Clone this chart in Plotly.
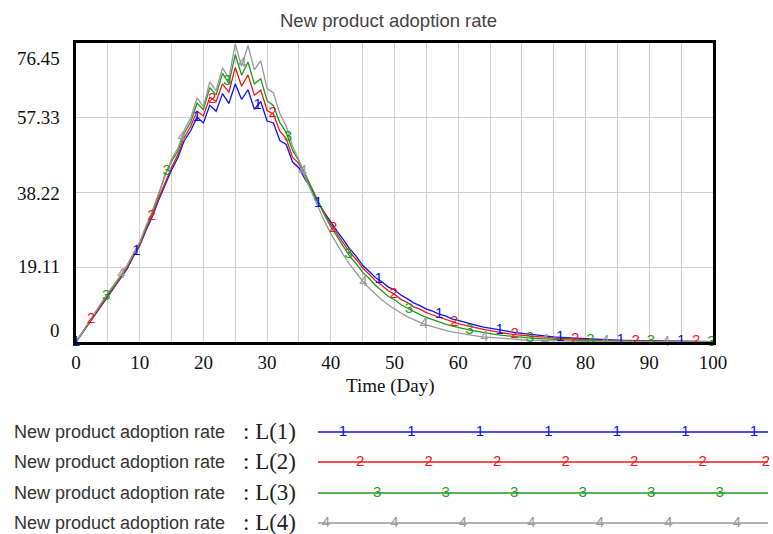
import numpy as np
import plotly.graph_objects as go

# ---------------- data ----------------
time_days = list(range(0, 101))

rate_L1 = [0, 2.3, 4.8, 6.9, 9.4, 11.6, 13.9, 16.2, 18.6, 21.8, 24.6,
           28.6, 32.1, 36.4, 40.2, 44.0, 47.1,
           51.5, 54.0, 57.5, 56.0, 60.5, 59.0, 63.5, 61.0, 66.0, 62.0,
           64.5, 59.5, 61.5, 56.5, 56.0, 51.5, 50.5, 46.0, 44.5, 41.5,
           39.0, 35.5, 33.0, 30.5,
           28.3, 26.1, 23.7, 21.9, 19.6, 18.1, 16.5, 15.4, 14.1, 13.3,
           12.0, 11.1, 10.0, 9.3, 8.4, 7.9, 7.1, 6.7, 5.9, 5.5,
           5.0, 4.6, 4.2, 3.8, 3.5, 3.2, 2.9, 2.6, 2.4, 2.2,
           2.0, 1.8, 1.6, 1.5, 1.3, 1.2, 1.1, 1.0, 0.9, 0.8,
           0.7, 0.65, 0.6, 0.5, 0.45, 0.4, 0.37, 0.33, 0.3, 0.27,
           0.25, 0.22, 0.2, 0.18, 0.16, 0.15, 0.13, 0.12, 0.11, 0.1]

rate_L2 = [0, 2.4, 4.9, 7.1, 9.5, 11.8, 14.1, 16.5, 18.9, 22.0, 24.9,
           28.9, 32.6, 36.9, 40.8, 44.6, 47.9,
           52.3, 55.1, 59.0, 57.8, 62.6, 61.5, 66.0, 63.8, 70.2, 65.4,
           68.3, 63.1, 64.4, 59.2, 58.3, 53.9, 52.0, 47.2, 45.6, 42.1,
           39.3, 35.8, 32.9, 30.1,
           27.6, 25.3, 22.9, 21.1, 18.9, 17.4, 15.7, 14.5, 13.1, 12.2,
           10.9, 10.1, 9.0, 8.4, 7.5, 6.9, 6.3, 5.7, 5.2, 4.7,
           4.3, 3.9, 3.5, 3.2, 2.9, 2.6, 2.4, 2.1, 1.9, 1.7,
           1.6, 1.4, 1.3, 1.1, 1.0, 0.9, 0.8, 0.75, 0.68, 0.6,
           0.55, 0.5, 0.44, 0.4, 0.36, 0.33, 0.3, 0.27, 0.24, 0.22,
           0.2, 0.18, 0.16, 0.15, 0.13, 0.12, 0.11, 0.1, 0.09, 0.08]

rate_L3 = [0, 2.5, 5.0, 7.4, 9.9, 12.3, 14.4, 16.8, 19.3, 22.4, 25.3,
           29.4, 33.2, 37.8, 42.9, 46.2, 48.8,
           53.4, 56.2, 61.1, 59.4, 65.0, 63.2, 68.7, 66.1, 73.5, 68.2,
           71.6, 66.0, 67.3, 61.7, 60.4, 56.1, 53.6, 49.0, 46.3, 42.8,
           39.4, 35.7, 32.5, 29.5,
           26.8, 24.4, 21.9, 20.0, 17.8, 16.3, 14.5, 13.2, 11.7, 10.8,
           9.6, 8.7, 7.8, 7.0, 6.3, 5.7, 5.1, 4.6, 4.1, 3.7,
           3.3, 3.0, 2.7, 2.4, 2.1, 1.9, 1.7, 1.5, 1.35, 1.2,
           1.05, 0.95, 0.85, 0.75, 0.66, 0.6, 0.53, 0.47, 0.42, 0.38,
           0.34, 0.3, 0.27, 0.24, 0.21, 0.19, 0.17, 0.15, 0.13, 0.12,
           0.1, 0.09, 0.08, 0.07, 0.065, 0.06, 0.05, 0.045, 0.04, 0.035]

rate_L4 = [0, 2.6, 5.1, 7.6, 10.1, 12.5, 14.7, 17.1, 19.6, 22.7, 25.6,
           29.8, 33.7, 38.2, 42.5, 46.7, 49.6,
           54.2, 57.3, 62.4, 60.2, 66.5, 64.3, 70.1, 67.4, 76.2, 70.5,
           75.8, 69.6, 71.9, 64.8, 63.7, 58.4, 55.2, 50.1, 46.4, 42.0,
           38.3, 34.4, 30.9, 27.7,
           24.8, 22.2, 19.8, 17.6, 15.6, 13.8, 12.2, 10.8, 9.5, 8.4,
           7.4, 6.5, 5.7, 5.0, 4.4, 3.9, 3.4, 3.0, 2.6, 2.3,
           2.0, 1.75, 1.5, 1.3, 1.15, 1.0, 0.88, 0.77, 0.67, 0.58,
           0.5, 0.44, 0.38, 0.33, 0.29, 0.25, 0.22, 0.19, 0.17, 0.15,
           0.13, 0.11, 0.1, 0.09, 0.08, 0.07, 0.06, 0.05, 0.045, 0.04,
           0.035, 0.03, 0.027, 0.024, 0.021, 0.019, 0.017, 0.015, 0.013, 0.012]

series_names = ["L(1)", "L(2)", "L(3)", "L(4)"]
series_labels = ["1", "2", "3", "4"]
series_values = [rate_L1, rate_L2, rate_L3, rate_L4]
series_colors = ["#1010f0", "#f01818", "#1e9a1e", "#9a9a9a"]

y_tick_values = [0, 19.11, 38.22, 57.33, 76.45]
y_tick_labels = ["0", "19.11", "38.22", "57.33", "76.45"]
x_tick_values = list(range(0, 101, 10))

chart_title = "New product adoption rate"
x_title = "Time (Day)"
legend_text = "New product adoption rate"

# ---------------- layout geometry (pixels) ----------------
W, H = 773, 534
ML, MT = 76, 43
PW, PH = W - ML, H - MT
plot_right, plot_bottom = 713, 342


def px_x(px):
    return (px - ML) / PW


def px_y(py):
    return (H - py) / PH


fig = go.Figure()

# series lines
t = np.array(time_days, dtype=float)
for name, vals, col in zip(series_names, series_values, series_colors):
    fig.add_trace(go.Scatter(x=t, y=vals, mode="lines", name=name,
                             line=dict(color=col, width=1.3),
                             showlegend=False, xaxis="x", yaxis="y"))

# numbered markers along each series (Vensim style)
marker_step = 9.5
for k, (lab, vals, col) in enumerate(zip(series_labels, series_values, series_colors)):
    mt = np.arange(k * marker_step / 4, 100.01, marker_step)
    my = np.interp(mt, t, np.array(vals, dtype=float))
    fig.add_trace(go.Scatter(x=mt, y=my, mode="text", text=[lab] * len(mt),
                             textposition="middle center",
                             textfont=dict(color=col, size=15, family="Liberation Sans"),
                             showlegend=False, xaxis="x", yaxis="y", cliponaxis=False))

# legend rows drawn on a hidden pixel-unit axis
legend_rows = [432, 462, 493, 523]
leg_x0, leg_x1 = 318, 773
leg_step = 68.5
for k, (lab, col, row) in enumerate(zip(series_labels, series_colors, legend_rows)):
    fig.add_trace(go.Scatter(x=[leg_x0, 768], y=[row, row], mode="lines",
                             line=dict(color=col, width=1.3), showlegend=False,
                             xaxis="x2", yaxis="y2", hoverinfo="skip"))
    start = 343 + k * leg_step / 4
    if k == 3:
        start -= leg_step
    mx = np.minimum(np.arange(start, 772, leg_step), 766)
    fig.add_trace(go.Scatter(x=mx, y=[row] * len(mx), mode="text", text=[lab] * len(mx),
                             textposition="middle center",
                             textfont=dict(color=col, size=15, family="Liberation Sans"),
                             showlegend=False, xaxis="x2", yaxis="y2",
                             hoverinfo="skip", cliponaxis=False))

annotations = []
# title
annotations.append(dict(text=chart_title, xref="paper", yref="paper",
                        x=px_x(388), y=px_y(20), xanchor="center", yanchor="middle",
                        showarrow=False,
                        font=dict(family="Liberation Sans", size=18.5, color="#444444")))
# x title
annotations.append(dict(text=x_title, xref="paper", yref="paper",
                        x=px_x(390), y=px_y(386), xanchor="center", yanchor="middle",
                        showarrow=False,
                        font=dict(family="Liberation Serif", size=19, color="#111111")))
# y tick labels
y_shifts = [12, 1, -1, 0, -15]
for v, lab, ys in zip(y_tick_values, y_tick_labels, y_shifts):
    annotations.append(dict(text=lab, xref="paper", yref="y", x=px_x(62), y=v,
                            yshift=ys, xanchor="right", yanchor="middle", showarrow=False,
                            font=dict(family="Liberation Serif", size=19, color="#111111")))
# legend texts
for name, row in zip(series_names, legend_rows):
    annotations.append(dict(text=legend_text, xref="paper", yref="paper",
                            x=px_x(12), y=px_y(row), xanchor="left", yanchor="middle",
                            showarrow=False,
                            font=dict(family="Liberation Sans", size=18, color="#333333")))
    annotations.append(dict(text=": " + name, xref="paper", yref="paper",
                            x=px_x(241), y=px_y(row - 1), xanchor="left", yanchor="middle",
                            showarrow=False,
                            font=dict(family="Liberation Serif", size=23, color="#222222")))

fig.update_layout(
    width=W, height=H, autosize=False,
    margin=dict(l=ML, r=0, t=MT, b=0, pad=0, autoexpand=False),
    paper_bgcolor="white", plot_bgcolor="white",
    showlegend=False,
    annotations=annotations,
    xaxis=dict(domain=[0, px_x(plot_right)], range=[0, 100], automargin=False,
               tickvals=x_tick_values, ticks="",
               showgrid=True, gridcolor="#cfcfcf", gridwidth=1,
               minor=dict(dtick=5, showgrid=True, gridcolor="#cfcfcf", gridwidth=1),
               showline=True, linecolor="black", linewidth=3, mirror=True,
               zeroline=False, ticklabelstandoff=1,
               tickfont=dict(family="Liberation Serif", size=19, color="#111111")),
    yaxis=dict(domain=[px_y(plot_bottom), 1], range=[0, 76.45], automargin=False,
               tickvals=y_tick_values, showticklabels=False, ticks="",
               showgrid=True, gridcolor="#cfcfcf", gridwidth=1,
               showline=True, linecolor="black", linewidth=3, mirror=True,
               zeroline=False),
    xaxis2=dict(domain=[px_x(leg_x0), 1], range=[leg_x0, leg_x1], visible=False,
                anchor="y2", automargin=False),
    yaxis2=dict(domain=[0, px_y(415)], range=[534, 415], visible=False,
                anchor="x2", automargin=False),
)

fig.write_html("out.html")
